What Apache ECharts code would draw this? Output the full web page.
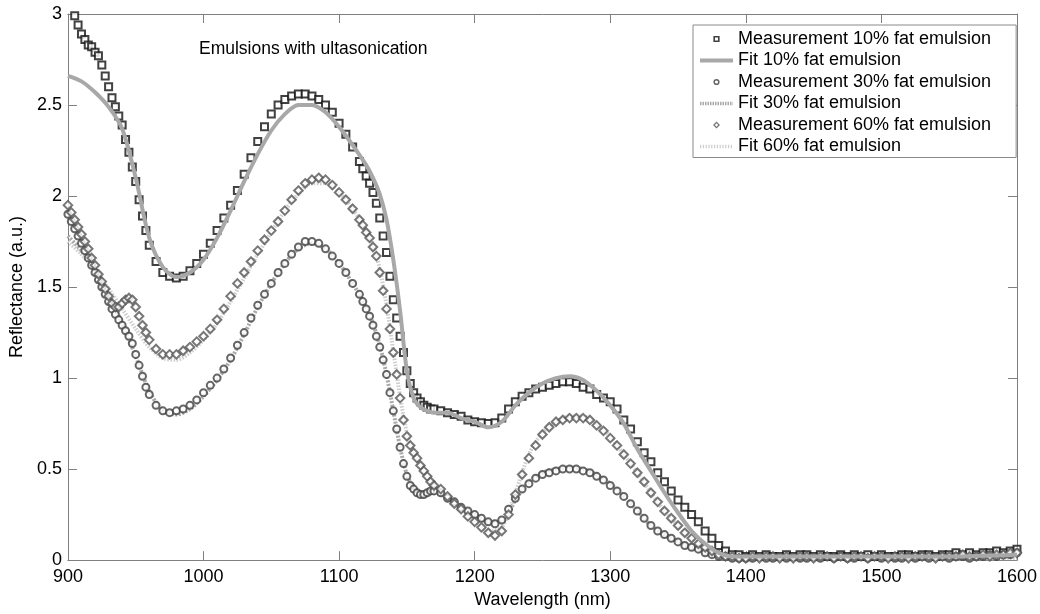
<!DOCTYPE html>
<html>
<head>
<meta charset="utf-8">
<script src="https://cdn.jsdelivr.net/npm/echarts@6/dist/echarts.min.js"></script>
<style>
html,body{margin:0;padding:0;background:#fff;}
#chart{width:1040px;height:614px;}
</style>
</head>
<body>
<div id="chart"></div>
<script>
// Wavelength grid of the measurements (nm)
const wl = [
  900,902.5,905,907.5,910,912.5,915,917.5,920,922.5,925,927.5,930,932.5,935,937.5,940,942.5,945,947.5,950,952.5,955,957.5,960,
  965,970,975,980,985,990,995,1000,1005,1010,1015,1020,1025,1030,1035,1040,1045,1050,1055,1060,1065,1070,1075,1080,1085,1090,1095,1100,1105,1110,1115,
  1117.5,1120,1122.5,1125,1127.5,1130,1132.5,1135,1137.5,1140,1142.5,1145,1147.5,1150,1152.5,1155,1157.5,1160,1162.5,1165,1167.5,1170,
  1175,1180,1185,1190,1195,1200,1205,1210,1215,1220,1225,1230,1235,1240,1245,1250,1255,1260,1265,1270,
  1275,1280,1285,1290,1295,1300,1305,1310,1315,1320,1325,1330,1335,1340,1345,1350,1355,1360,1365,1370,
  1375,1380,1385,1390,1395,1400,1405,1410,1415,1420,1425,1430,1435,1440,1445,1450,1455,1460,1465,1470,
  1475,1480,1485,1490,1495,1500,1505,1510,1515,1520,1525,1530,1535,1540,1545,1550,1555,1560,1565,1570,
  1575,1580,1585,1590,1595,1600
];
// Measurement 10% fat emulsion
const meas10 = [
  3.08,3.03,2.99,2.94,2.89,2.86,2.83,2.82,2.79,2.77,2.72,2.66,2.60,2.54,2.49,2.44,2.39,2.31,2.24,2.16,2.08,1.98,1.89,1.81,1.73,
  1.64,1.58,1.56,1.55,1.56,1.59,1.63,1.68,1.74,1.81,1.88,1.95,2.03,2.12,2.21,2.30,2.38,2.45,2.50,2.53,2.55,2.56,2.56,2.55,2.53,2.50,2.46,2.40,2.34,2.27,2.19,
  2.15,2.11,2.07,2.02,1.96,1.88,1.78,1.69,1.56,1.43,1.33,1.23,1.14,1.04,0.97,0.92,0.89,0.87,0.85,0.84,0.83,0.83,
  0.82,0.81,0.80,0.79,0.77,0.76,0.755,0.75,0.755,0.78,0.83,0.87,0.90,0.92,0.94,0.95,0.96,0.97,0.98,0.98,
  0.97,0.95,0.94,0.91,0.89,0.87,0.83,0.77,0.72,0.65,0.59,0.54,0.48,0.43,0.38,0.33,0.29,0.25,0.21,0.16,
  0.12,0.08,0.05,0.03,0.03,0.02,0.03,0.02,0.03,0.02,0.02,0.03,0.02,0.03,0.03,0.02,0.03,0.02,0.02,0.03,
  0.02,0.03,0.02,0.03,0.02,0.03,0.02,0.02,0.03,0.03,0.02,0.03,0.03,0.02,0.03,0.03,0.04,0.03,0.04,0.03,
  0.04,0.04,0.05,0.04,0.05,0.06
];
// Measurement 60% fat emulsion (diamonds)
const meas60 = [
  1.95,1.91,1.87,1.83,1.79,1.75,1.71,1.66,1.62,1.57,1.53,1.49,1.45,1.41,1.39,1.39,1.41,1.43,1.44,1.43,1.39,1.34,1.29,1.25,1.21,
  1.16,1.13,1.13,1.13,1.15,1.17,1.20,1.23,1.27,1.32,1.38,1.45,1.52,1.58,1.64,1.70,1.76,1.81,1.86,1.92,1.98,2.03,2.07,2.09,2.10,2.09,2.06,2.02,1.98,1.93,1.87,
  1.84,1.80,1.77,1.72,1.67,1.58,1.48,1.38,1.27,1.14,1.02,0.89,0.77,0.68,0.63,0.59,0.56,0.52,0.49,0.46,0.43,0.41,
  0.39,0.35,0.31,0.28,0.24,0.21,0.18,0.15,0.135,0.16,0.25,0.36,0.47,0.56,0.63,0.69,0.73,0.76,0.77,0.78,
  0.78,0.78,0.77,0.74,0.71,0.67,0.63,0.58,0.53,0.48,0.43,0.37,0.32,0.27,0.23,0.19,0.15,0.12,0.09,0.07,
  0.05,0.03,0.02,0.02,0.01,0.01,0.02,0.01,0.02,0.02,0.01,0.02,0.01,0.02,0.02,0.01,0.02,0.02,0.01,0.02,
  0.01,0.02,0.02,0.01,0.02,0.02,0.01,0.02,0.02,0.01,0.02,0.02,0.02,0.01,0.02,0.02,0.02,0.03,0.02,0.02,
  0.03,0.02,0.03,0.03,0.04,0.04
];
// Measurement 30% fat emulsion (circles)
const meas30 = [
  1.90,1.86,1.82,1.78,1.74,1.70,1.66,1.62,1.58,1.54,1.50,1.46,1.42,1.38,1.35,1.32,1.29,1.26,1.23,1.19,1.13,1.07,1.01,0.95,0.91,
  0.85,0.82,0.81,0.82,0.83,0.85,0.88,0.92,0.96,1.00,1.05,1.11,1.18,1.25,1.33,1.40,1.46,1.52,1.58,1.63,1.68,1.72,1.75,1.75,1.74,1.71,1.67,1.63,1.58,1.52,1.46,
  1.42,1.38,1.34,1.29,1.23,1.17,1.10,1.02,0.92,0.82,0.72,0.62,0.53,0.46,0.41,0.39,0.37,0.36,0.36,0.37,0.38,0.38,
  0.37,0.34,0.32,0.29,0.27,0.25,0.23,0.21,0.20,0.22,0.28,0.34,0.39,0.42,0.45,0.47,0.48,0.49,0.50,0.50,
  0.50,0.49,0.48,0.46,0.44,0.41,0.38,0.35,0.31,0.27,0.23,0.19,0.16,0.14,0.12,0.10,0.08,0.07,0.06,0.04,
  0.03,0.02,0.02,0.01,0.01,0.01,0.01,0.02,0.01,0.01,0.02,0.01,0.02,0.01,0.01,0.02,0.01,0.02,0.01,0.02,
  0.01,0.01,0.02,0.01,0.02,0.01,0.02,0.01,0.01,0.02,0.01,0.02,0.01,0.02,0.02,0.01,0.02,0.02,0.01,0.02,
  0.02,0.03,0.02,0.03,0.03,0.04
];
// Wavelength grid of the fits (nm)
const fitWl = [
  900,910,920,930,940,950,960,970,980,990,1000,1010,1020,1030,1040,1050,1060,1070,1080,1090,1100,1110,1120,
  1125,1130,1135,1140,1145,1150,1155,1160,1165,1170,
  1180,1190,1200,1210,1220,1230,1240,1250,1260,1270,1280,1290,1300,1310,1320,1330,1340,1350,1360,1370,1380,1390,1400,
  1450,1500,1550,1600
];
const fit10 = [
  2.66,2.63,2.57,2.49,2.37,2.10,1.77,1.61,1.555,1.58,1.65,1.77,1.92,2.08,2.23,2.36,2.45,2.50,2.50,2.46,2.38,2.28,2.17,
  2.10,2.01,1.87,1.65,1.37,1.04,0.89,0.84,0.82,0.81,
  0.81,0.78,0.76,0.73,0.76,0.85,0.92,0.97,1.00,1.01,0.99,0.93,0.85,0.75,0.61,0.49,0.37,0.26,0.16,0.09,0.04,0.02,0.02,
  0.02,0.02,0.02,0.03
];
const fit30 = [
  1.78,1.70,1.60,1.46,1.30,1.12,0.93,0.82,0.80,0.83,0.90,0.99,1.10,1.24,1.39,1.52,1.63,1.71,1.74,1.71,1.63,1.52,1.39,
  1.30,1.18,1.02,0.82,0.62,0.47,0.40,0.37,0.37,0.37,
  0.34,0.29,0.25,0.21,0.21,0.33,0.43,0.48,0.50,0.51,0.50,0.47,0.42,0.35,0.27,0.19,0.14,0.10,0.07,0.04,0.02,0.01,0.01,
  0.01,0.01,0.01,0.02
];
const fit60 = [
  1.75,1.68,1.59,1.49,1.38,1.27,1.17,1.11,1.10,1.14,1.21,1.30,1.42,1.55,1.68,1.80,1.92,2.01,2.07,2.07,2.02,1.93,1.81,
  1.73,1.60,1.40,1.15,0.90,0.70,0.59,0.52,0.46,0.41,
  0.35,0.29,0.22,0.16,0.18,0.37,0.58,0.70,0.76,0.79,0.79,0.75,0.68,0.58,0.48,0.37,0.27,0.19,0.12,0.07,0.03,0.02,0.01,
  0.01,0.01,0.01,0.01
];
const seriesNames = [
  'Measurement 10% fat emulsion','Fit 10% fat emulsion',
  'Measurement 30% fat emulsion','Fit 30% fat emulsion',
  'Measurement 60% fat emulsion','Fit 60% fat emulsion'
];
const xTicks = {min: 900, max: 1600, step: 100};
const yTicks = {min: 0, max: 3, step: 0.5};

function pairs(xs, ys) {
  const n = Math.min(xs.length, ys.length);
  const out = [];
  for (let i = 0; i < n; i++) out.push([xs[i], ys[i]]);
  return out;
}

// ---- legend icon shapes (33 x 7 box) ----
const BOX = 'M0 0L0.01 0L0.01 0.01Z M33 7L32.99 7L32.99 6.99Z ';
const iconSquare = 'path://' + BOX +
  'M13.4 0.4L19.6 0.4L19.6 6.6L13.4 6.6Z M15 2L15 5L18 5L18 2Z';
const iconCircle = 'path://' + BOX +
  'M13.4 3.5A3.1 3.1 0 1 0 19.6 3.5A3.1 3.1 0 1 0 13.4 3.5Z ' +
  'M14.9 3.5A1.6 1.6 0 1 1 18.1 3.5A1.6 1.6 0 1 1 14.9 3.5Z';
const iconDiamond = 'path://' + BOX +
  'M16.5 0L20 3.5L16.5 7L13 3.5Z M16.5 1.8L14.8 3.5L16.5 5.2L18.2 3.5Z';
function barIcon(dash, gap, h) {
  const y0 = 3.5 - h / 2, y1 = 3.5 + h / 2;
  if (!dash) return 'path://' + BOX + 'M0 ' + y0 + 'L33 ' + y0 + 'L33 ' + y1 + 'L0 ' + y1 + 'Z';
  let s = 'path://' + BOX;
  for (let x = 0; x < 33; x += dash + gap) {
    const x1 = Math.min(33, x + dash);
    s += 'M' + x + ' ' + y0 + 'L' + x1 + ' ' + y0 + 'L' + x1 + ' ' + y1 + 'L' + x + ' ' + y1 + 'Z ';
  }
  return s;
}

const FONT = '"Liberation Sans", Arial, sans-serif';
const axisGray = '#7f7f7f';
const colors = {m10: '#111111', f10: '#a8a8a8', m30: '#404040', f30: '#a9a9a9', m60: '#555555', f60: '#cdcdcd'};
const chart = echarts.init(document.getElementById('chart'), null, {renderer: 'canvas'});

const baseX = {
  type: 'value', min: xTicks.min, max: xTicks.max, interval: xTicks.step,
  axisLine: {show: true, onZero: false, lineStyle: {color: axisGray, width: 1}},
  axisTick: {show: true, inside: true, length: 9, lineStyle: {color: axisGray}},
  splitLine: {show: false}
};
const baseY = {
  type: 'value', min: yTicks.min, max: yTicks.max, interval: yTicks.step,
  axisLine: {show: true, onZero: false, lineStyle: {color: axisGray, width: 1}},
  axisTick: {show: true, inside: true, length: 9, lineStyle: {color: axisGray}},
  splitLine: {show: false}
};

const option = {
  backgroundColor: '#fff',
  animation: false,
  textStyle: {fontFamily: FONT},
  grid: {left: 63, right: 18, top: 14, bottom: 47, containLabel: false},
  xAxis: [
    Object.assign({}, baseX, {
      position: 'bottom',
      axisLabel: {color: '#000', fontSize: 18, fontFamily: FONT, margin: 8, formatter: v => String(v)},
      name: 'Wavelength (nm)', nameLocation: 'middle', nameGap: 30,
      nameTextStyle: {color: '#000', fontSize: 18, fontFamily: FONT}
    }),
    Object.assign({}, baseX, {position: 'top', axisLabel: {show: false}})
  ],
  yAxis: [
    Object.assign({}, baseY, {
      position: 'left',
      axisLabel: {color: '#000', fontSize: 18, fontFamily: FONT, margin: 6, formatter: v => String(v)},
      name: 'Reflectance (a.u.)', nameLocation: 'middle', nameGap: 36, nameRotate: 90,
      nameTextStyle: {color: '#000', fontSize: 18, fontFamily: FONT}
    }),
    Object.assign({}, baseY, {position: 'right', axisLabel: {show: false}})
  ],
  legend: {
    orient: 'vertical', left: 693, top: 25,
    padding: [5, 25, 2, 7],
    itemGap: 3.5, itemWidth: 33, itemHeight: 7,
    symbolKeepAspect: true,
    backgroundColor: '#fff', borderColor: '#8a8a8a', borderWidth: 1,
    textStyle: {color: '#000', fontSize: 18, fontFamily: FONT},
    data: [
      {name: seriesNames[0], icon: iconSquare, itemStyle: {color: colors.m10, borderWidth: 0}},
      {name: seriesNames[1], icon: barIcon(0, 0, 4), itemStyle: {color: colors.f10, borderWidth: 0}},
      {name: seriesNames[2], icon: iconCircle, itemStyle: {color: colors.m30, borderWidth: 0}},
      {name: seriesNames[3], icon: barIcon(1.5, 1, 3.5), itemStyle: {color: colors.f30, borderWidth: 0}},
      {name: seriesNames[4], icon: iconDiamond, itemStyle: {color: colors.m60, borderWidth: 0}},
      {name: seriesNames[5], icon: barIcon(1.2, 1.6, 3.5), itemStyle: {color: colors.f60, borderWidth: 0}}
    ]
  },
  graphic: [{
    type: 'text', left: 199, top: 40,
    style: {text: 'Emulsions with ultasonication', font: '17.5px "Liberation Sans", Arial, sans-serif', fill: '#000'}
  }],
  series: [
    {
      name: seriesNames[0], type: 'scatter', data: pairs(wl, meas10),
      symbol: 'emptyRect', symbolSize: 7, clip: true, z: 3,
      itemStyle: {color: colors.m10, borderColor: colors.m10, borderWidth: 2}
    },
    {
      name: seriesNames[1], type: 'line', data: pairs(fitWl, fit10),
      showSymbol: false, symbol: 'none', smooth: 0.3, clip: true, z: 4,
      lineStyle: {color: colors.f10, width: 4}, itemStyle: {color: colors.f10}
    },
    {
      name: seriesNames[2], type: 'scatter', data: pairs(wl, meas30),
      symbol: 'emptyCircle', symbolSize: 7, clip: true, z: 3,
      itemStyle: {color: colors.m30, borderColor: colors.m30, borderWidth: 2}
    },
    {
      name: seriesNames[3], type: 'line', data: pairs(fitWl, fit30),
      showSymbol: false, symbol: 'none', smooth: 0.3, clip: true, z: 2,
      lineStyle: {color: colors.f30, width: 4, type: [2, 1.5]}, itemStyle: {color: colors.f30}
    },
    {
      name: seriesNames[4], type: 'scatter', data: pairs(wl, meas60),
      symbol: 'emptyDiamond', symbolSize: 8.5, clip: true, z: 3,
      itemStyle: {color: colors.m60, borderColor: colors.m60, borderWidth: 2}
    },
    {
      name: seriesNames[5], type: 'line', data: pairs(fitWl, fit60),
      showSymbol: false, symbol: 'none', smooth: 0.3, clip: true, z: 2,
      lineStyle: {color: colors.f60, width: 4, type: [1.5, 1.5]}, itemStyle: {color: colors.f60}
    }
  ]
};
chart.setOption(option);
</script>
</body>
</html>
